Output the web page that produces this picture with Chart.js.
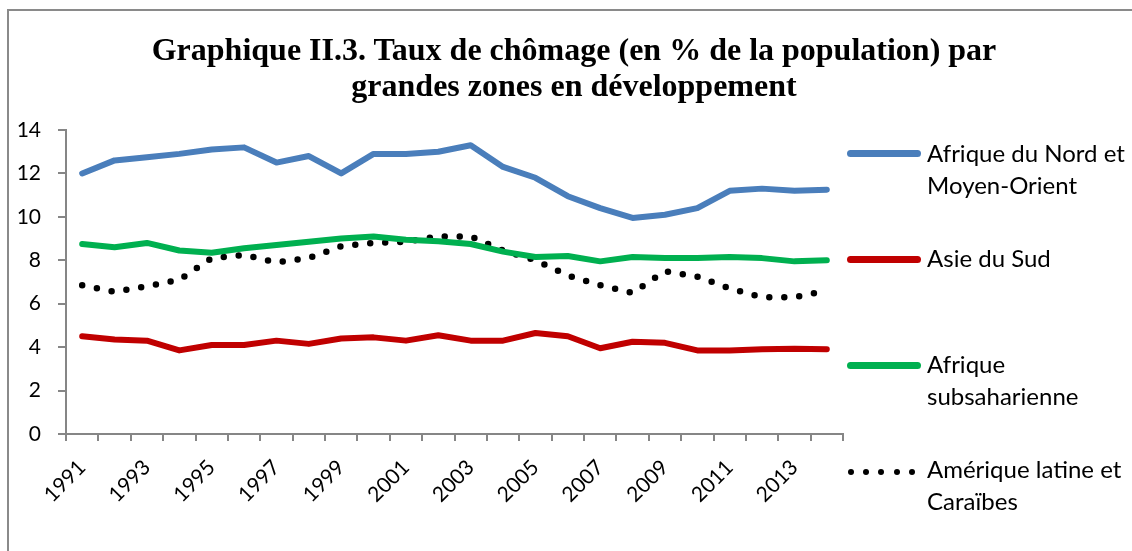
<!DOCTYPE html>
<html lang="fr">
<head>
<meta charset="utf-8">
<title>Taux de chômage par grandes zones en développement</title>
<script src="https://cdn.jsdelivr.net/npm/chart.js@4"></script>
<style>
  html, body { margin: 0; padding: 0; background: #fff; }
  #wrap { position: relative; width: 1132px; height: 551px; overflow: hidden; }
  #frame {
    position: absolute; left: 7px; top: 9px; width: 1140px; height: 560px;
    border: 2px solid #8a8a8a; box-sizing: border-box;
  }
  #chart { position: absolute; left: 0; top: 0; }
  #title {
    position: absolute; left: 0; width: 1148px; top: 31px;
    font: bold 32px "Liberation Serif", "Times New Roman", serif;
    line-height: 36px; text-align: center; color: #000; white-space: nowrap;
  }
  .leg { position: absolute; left: 927px; font: 24px Lato, sans-serif; line-height: 32px; color: #000; white-space: nowrap; }
  .sw { position: absolute; left: 847px; width: 74px; height: 7px; border-radius: 4px; }
  .dot { position: absolute; width: 6px; height: 6px; border-radius: 50%; background: #000; }
</style>
</head>
<body>
<div id="wrap">
  <div id="frame"></div>
  <canvas id="chart" width="1132" height="551"></canvas>
  <div id="title">Graphique II.3. Taux de chômage (en % de la population) par<br>grandes zones en développement</div>
  <div id="legend"></div>
</div>
<script>
'use strict';

// ── Data ──────────────────────────────────────────────────────────────────
const years = ['1991', '1992', '1993', '1994', '1995', '1996', '1997', '1998',
  '1999', '2000', '2001', '2002', '2003', '2004', '2005', '2006',
  '2007', '2008', '2009', '2010', '2011', '2012', '2013', '2014'];

// only every other year carries a label on the x axis
const tickLabels = ['1991', '', '1993', '', '1995', '', '1997', '',
  '1999', '', '2001', '', '2003', '', '2005', '',
  '2007', '', '2009', '', '2011', '', '2013', ''];

const yTicks = [0, 2, 4, 6, 8, 10, 12, 14];

const afriqueNordMoyenOrient = [12.0, 12.6, 12.75, 12.9, 13.1, 13.2, 12.5, 12.8,
  12.0, 12.9, 12.9, 13.0, 13.3, 12.3, 11.8, 10.95,
  10.4, 9.95, 10.1, 10.4, 11.2, 11.3, 11.2, 11.25];

const asieDuSud = [4.5, 4.35, 4.3, 3.85, 4.1, 4.1, 4.3, 4.15,
  4.4, 4.45, 4.3, 4.55, 4.3, 4.3, 4.65, 4.5,
  3.95, 4.25, 4.2, 3.85, 3.85, 3.9, 3.93, 3.9];

const afriqueSubsaharienne = [8.75, 8.6, 8.8, 8.45, 8.35, 8.55, 8.7, 8.85,
  9.0, 9.1, 8.95, 8.88, 8.75, 8.4, 8.15, 8.2,
  7.95, 8.15, 8.1, 8.1, 8.15, 8.1, 7.95, 8.0];

const ameriqueLatineCaraibes = [6.85, 6.55, 6.8, 7.1, 8.1, 8.25, 7.9, 8.1,
  8.65, 8.8, 8.85, 9.1, 9.1, 8.45, 8.0, 7.3,
  6.85, 6.5, 7.5, 7.25, 6.7, 6.3, 6.3, 6.6];

const seriesNames = [
  ['Afrique du Nord et', 'Moyen-Orient'],
  ['Asie du Sud'],
  ['Afrique', 'subsaharienne'],
  ['Amérique latine et', 'Caraïbes'],
];
const seriesColors = ['#4a7ebb', '#c00000', '#00b050', '#000000'];

// ── Chart ─────────────────────────────────────────────────────────────────
const AXIS_GREY = '#868686';
const FONT = { family: 'Lato, sans-serif', size: 21 };

function lineSet(i, data, dotted) {
  return {
    label: seriesNames[i].join(' '),
    data: data,
    borderColor: seriesColors[i],
    backgroundColor: seriesColors[i],
    borderWidth: dotted ? 6.5 : 6,
    borderDash: dotted ? [0, 15] : [],
    borderCapStyle: 'round',
    borderJoinStyle: 'round',
    pointRadius: 0,
    tension: 0,
    fill: false,
  };
}

new Chart(document.getElementById('chart'), {
  type: 'line',
  data: {
    labels: years,
    datasets: [
      lineSet(0, afriqueNordMoyenOrient, false),
      lineSet(1, asieDuSud, false),
      lineSet(2, afriqueSubsaharienne, false),
      lineSet(3, ameriqueLatineCaraibes, true),
    ],
  },
  options: {
    responsive: false,
    animation: false,
    layout: { padding: { left: 10, right: 289, top: 130, bottom: 0 } },
    plugins: {
      legend: { display: false },
      title: { display: false },
      tooltip: { enabled: false },
    },
    scales: {
      x: {
        offset: true,
        grid: { offset: true, drawOnChartArea: false, drawTicks: true, tickLength: 7, color: AXIS_GREY, lineWidth: 2 },
        border: { display: true, color: AXIS_GREY, width: 2 },
        ticks: {
          autoSkip: false,
          minRotation: 45,
          maxRotation: 45,
          padding: 14,
          color: '#000',
          font: FONT,
          callback: function (value, index) { return tickLabels[index]; },
        },
        afterFit: function (scale) { scale.height = 551 - 434; },
      },
      y: {
        min: 0,
        max: 14,
        afterBuildTicks: function (scale) {
          scale.ticks = yTicks.map(function (v) { return { value: v }; });
        },
        grid: { drawOnChartArea: false, drawTicks: true, tickLength: 8, color: AXIS_GREY, lineWidth: 2 },
        border: { display: true, color: AXIS_GREY, width: 2 },
        ticks: { padding: 17, color: '#000', font: FONT },
        afterFit: function (scale) { scale.width = 56; },
      },
    },
  },
});

// ── Legend (right side, wrapped labels as in the original) ───────────────
(function buildLegend() {
  const host = document.getElementById('legend');
  const swatchY = [153, 259, 365, 472];
  const textTop = [137, 242, 348, 453];
  seriesNames.forEach(function (lines, i) {
    const y = swatchY[i];
    if (i === 3) {
      for (let k = 0; k < 5; k++) {
        const d = document.createElement('div');
        d.className = 'dot';
        d.style.left = (848 + k * 15.2) + 'px';
        d.style.top = (y - 3) + 'px';
        host.appendChild(d);
      }
    } else {
      const s = document.createElement('div');
      s.className = 'sw';
      s.style.top = (y - 3.5) + 'px';
      s.style.background = seriesColors[i];
      host.appendChild(s);
    }
    const t = document.createElement('div');
    t.className = 'leg';
    t.style.top = textTop[i] + 'px';
    t.innerHTML = lines.join('<br>');
    host.appendChild(t);
  });
})();
</script>
</body>
</html>
